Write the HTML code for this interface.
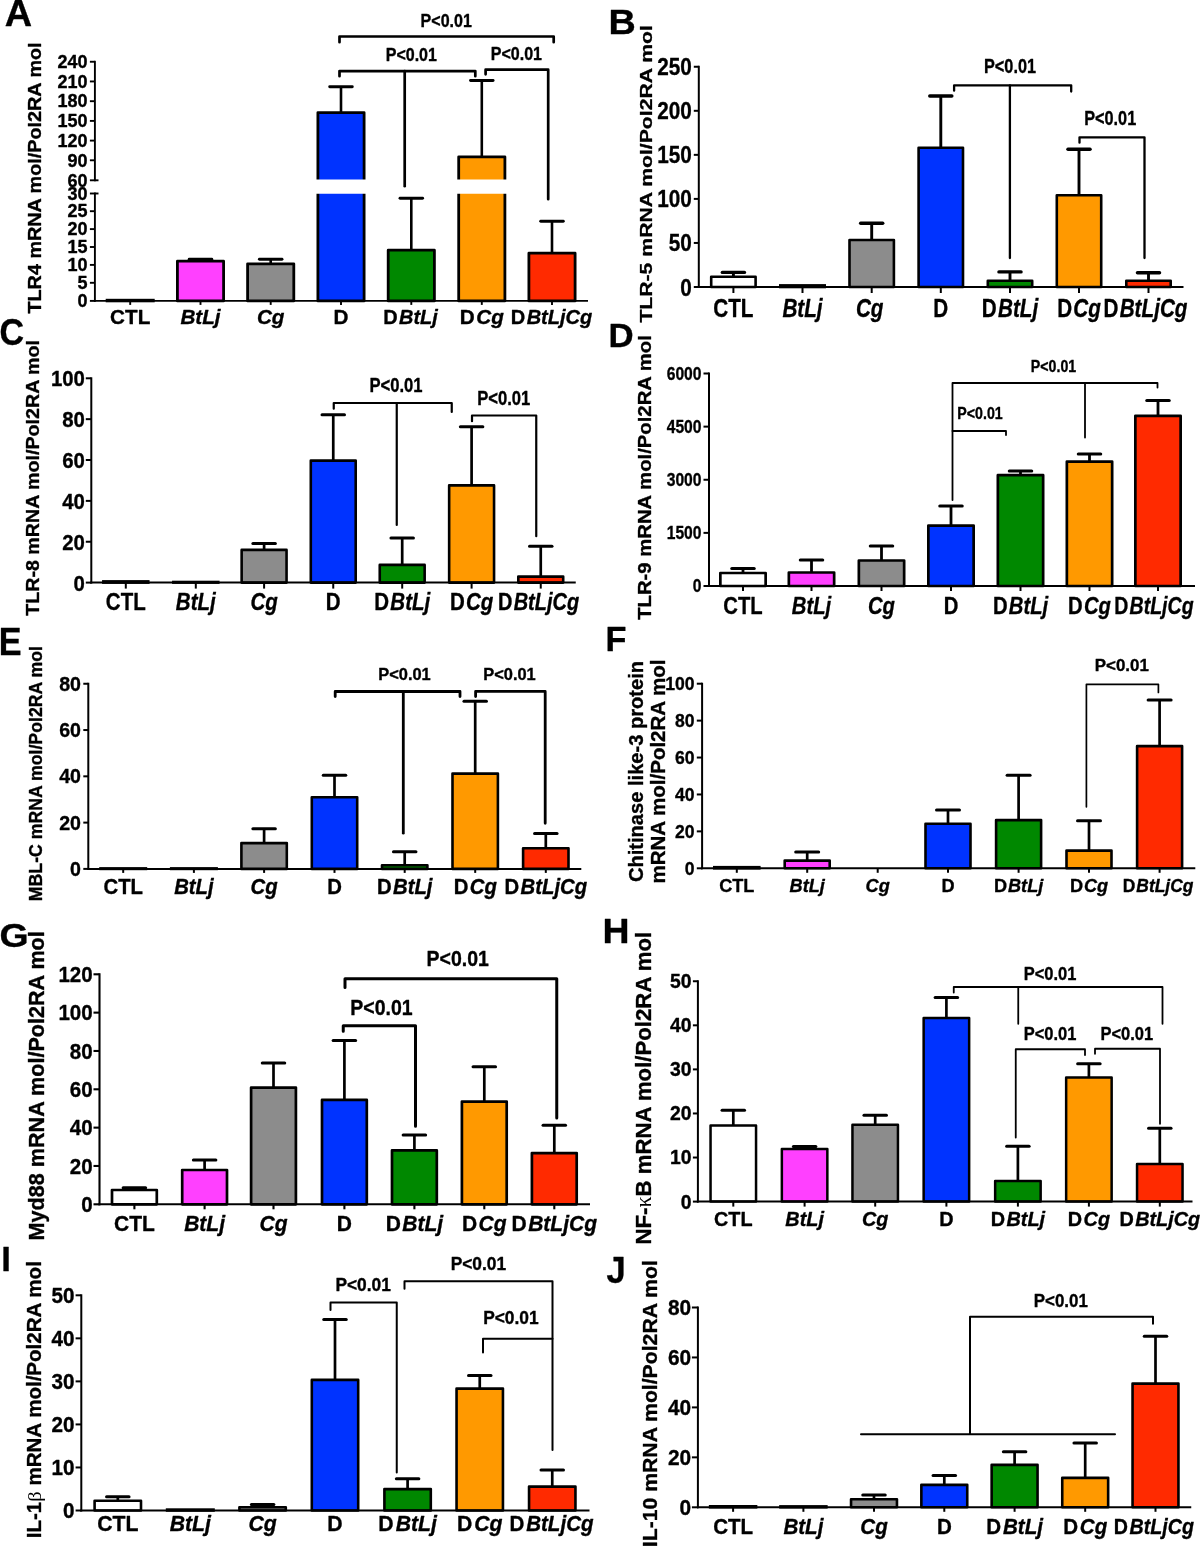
<!DOCTYPE html>
<html><head><meta charset="utf-8"><style>
html,body{margin:0;padding:0;background:#fff;width:1200px;height:1548px;overflow:hidden}
svg{display:block;will-change:transform}
text{font-family:"Liberation Sans", sans-serif;font-weight:bold;fill:#000;stroke:#000;stroke-width:0.35px;stroke-linejoin:round}
tspan.g{font-family:"Liberation Serif",serif;font-weight:normal;stroke-width:0}
</style></head><body>
<svg width="1200" height="1548" viewBox="0 0 1200 1548">
<rect width="1200" height="1548" fill="#fff"/>
<g>
<text transform="translate(4.80,25.90) scale(1.040,1)" font-size="36.40" text-anchor="start">A</text>
<text transform="translate(35.00,178.00) scale(0.950,1) rotate(-90)" font-size="19.80" text-anchor="middle" dominant-baseline="central">TLR4 mRNA mol/Pol2RA mol</text>
<rect x="105.70" y="298.80" width="49.00" height="3.50" fill="#000"/>
<line x1="200.50" y1="261.20" x2="200.50" y2="259.30" stroke="#000" stroke-width="2.6"/>
<line x1="189.20" y1="259.30" x2="211.80" y2="259.30" stroke="#000" stroke-width="2.9" stroke-linecap="round"/>
<rect x="177.40" y="261.20" width="46.20" height="39.70" fill="#ff40ff" stroke="#000" stroke-width="2.8" stroke-linejoin="round"/>
<line x1="270.70" y1="263.80" x2="270.70" y2="259.30" stroke="#000" stroke-width="2.6"/>
<line x1="259.40" y1="259.30" x2="282.00" y2="259.30" stroke="#000" stroke-width="2.9" stroke-linecap="round"/>
<rect x="247.60" y="263.80" width="46.20" height="37.10" fill="#8c8c8c" stroke="#000" stroke-width="2.8" stroke-linejoin="round"/>
<line x1="341.00" y1="112.60" x2="341.00" y2="86.75" stroke="#000" stroke-width="2.6"/>
<line x1="329.70" y1="86.75" x2="352.30" y2="86.75" stroke="#000" stroke-width="2.9" stroke-linecap="round"/>
<rect x="317.90" y="112.60" width="46.20" height="188.30" fill="#0033ff" stroke="#000" stroke-width="2.8" stroke-linejoin="round"/>
<line x1="411.30" y1="250.20" x2="411.30" y2="198.25" stroke="#000" stroke-width="2.6"/>
<line x1="400.00" y1="198.25" x2="422.60" y2="198.25" stroke="#000" stroke-width="2.9" stroke-linecap="round"/>
<rect x="388.20" y="250.20" width="46.20" height="50.70" fill="#008800" stroke="#000" stroke-width="2.8" stroke-linejoin="round"/>
<line x1="481.80" y1="156.80" x2="481.80" y2="80.50" stroke="#000" stroke-width="2.6"/>
<line x1="470.50" y1="80.50" x2="493.10" y2="80.50" stroke="#000" stroke-width="2.9" stroke-linecap="round"/>
<rect x="458.70" y="156.80" width="46.20" height="144.10" fill="#ff9900" stroke="#000" stroke-width="2.8" stroke-linejoin="round"/>
<line x1="552.00" y1="253.20" x2="552.00" y2="221.25" stroke="#000" stroke-width="2.6"/>
<line x1="540.70" y1="221.25" x2="563.30" y2="221.25" stroke="#000" stroke-width="2.9" stroke-linecap="round"/>
<rect x="528.90" y="253.20" width="46.20" height="47.70" fill="#ff2a00" stroke="#000" stroke-width="2.8" stroke-linejoin="round"/>
<rect x="97.90" y="179.50" width="493.10" height="14.25" fill="#fff"/>
<line x1="94.90" y1="60.80" x2="94.90" y2="181.25" stroke="#000" stroke-width="1.9"/>
<line x1="94.90" y1="192.55" x2="94.90" y2="301.85" stroke="#000" stroke-width="1.9"/>
<line x1="89.90" y1="61.75" x2="94.90" y2="61.75" stroke="#000" stroke-width="1.9"/>
<text transform="translate(87.60,67.96) scale(1.000,1)" font-size="18.00" text-anchor="end">240</text>
<line x1="89.90" y1="81.45" x2="94.90" y2="81.45" stroke="#000" stroke-width="1.9"/>
<text transform="translate(87.60,87.66) scale(1.000,1)" font-size="18.00" text-anchor="end">210</text>
<line x1="89.90" y1="101.20" x2="94.90" y2="101.20" stroke="#000" stroke-width="1.9"/>
<text transform="translate(87.60,107.41) scale(1.000,1)" font-size="18.00" text-anchor="end">180</text>
<line x1="89.90" y1="120.90" x2="94.90" y2="120.90" stroke="#000" stroke-width="1.9"/>
<text transform="translate(87.60,127.11) scale(1.000,1)" font-size="18.00" text-anchor="end">150</text>
<line x1="89.90" y1="140.60" x2="94.90" y2="140.60" stroke="#000" stroke-width="1.9"/>
<text transform="translate(87.60,146.81) scale(1.000,1)" font-size="18.00" text-anchor="end">120</text>
<line x1="89.90" y1="160.30" x2="94.90" y2="160.30" stroke="#000" stroke-width="1.9"/>
<text transform="translate(87.60,166.51) scale(1.000,1)" font-size="18.00" text-anchor="end">90</text>
<line x1="89.90" y1="180.30" x2="98.50" y2="180.30" stroke="#000" stroke-width="1.9"/>
<text transform="translate(87.60,186.51) scale(1.000,1)" font-size="18.00" text-anchor="end">60</text>
<line x1="89.90" y1="193.50" x2="98.50" y2="193.50" stroke="#000" stroke-width="1.9"/>
<text transform="translate(87.60,199.71) scale(1.000,1)" font-size="18.00" text-anchor="end">30</text>
<line x1="89.90" y1="211.20" x2="94.90" y2="211.20" stroke="#000" stroke-width="1.9"/>
<text transform="translate(87.60,217.41) scale(1.000,1)" font-size="18.00" text-anchor="end">25</text>
<line x1="89.90" y1="229.10" x2="94.90" y2="229.10" stroke="#000" stroke-width="1.9"/>
<text transform="translate(87.60,235.31) scale(1.000,1)" font-size="18.00" text-anchor="end">20</text>
<line x1="89.90" y1="247.00" x2="94.90" y2="247.00" stroke="#000" stroke-width="1.9"/>
<text transform="translate(87.60,253.21) scale(1.000,1)" font-size="18.00" text-anchor="end">15</text>
<line x1="89.90" y1="264.90" x2="94.90" y2="264.90" stroke="#000" stroke-width="1.9"/>
<text transform="translate(87.60,271.11) scale(1.000,1)" font-size="18.00" text-anchor="end">10</text>
<line x1="89.90" y1="282.80" x2="94.90" y2="282.80" stroke="#000" stroke-width="1.9"/>
<text transform="translate(87.60,289.01) scale(1.000,1)" font-size="18.00" text-anchor="end">5</text>
<line x1="89.90" y1="300.90" x2="94.90" y2="300.90" stroke="#000" stroke-width="1.9"/>
<text transform="translate(87.60,307.11) scale(1.000,1)" font-size="18.00" text-anchor="end">0</text>
<line x1="93.95" y1="300.90" x2="588.00" y2="300.90" stroke="#000" stroke-width="1.9"/>
<line x1="130.20" y1="300.90" x2="130.20" y2="304.90" stroke="#000" stroke-width="1.9"/>
<line x1="200.50" y1="300.90" x2="200.50" y2="304.90" stroke="#000" stroke-width="1.9"/>
<line x1="270.70" y1="300.90" x2="270.70" y2="304.90" stroke="#000" stroke-width="1.9"/>
<line x1="341.00" y1="300.90" x2="341.00" y2="304.90" stroke="#000" stroke-width="1.9"/>
<line x1="411.30" y1="300.90" x2="411.30" y2="304.90" stroke="#000" stroke-width="1.9"/>
<line x1="481.80" y1="300.90" x2="481.80" y2="304.90" stroke="#000" stroke-width="1.9"/>
<line x1="552.00" y1="300.90" x2="552.00" y2="304.90" stroke="#000" stroke-width="1.9"/>
<text transform="translate(130.20,324.30) scale(0.990,1)" font-size="20.90" text-anchor="middle">CTL</text>
<text transform="translate(200.50,324.30) scale(0.990,1)" font-size="20.90" text-anchor="middle" font-style="italic">BtLj</text>
<text transform="translate(270.70,324.30) scale(0.990,1)" font-size="20.90" text-anchor="middle" font-style="italic">Cg</text>
<text transform="translate(341.00,324.30) scale(0.990,1)" font-size="20.90" text-anchor="middle">D</text>
<text transform="translate(410.50,324.30) scale(0.955,1)" font-size="20.90" text-anchor="middle">D<tspan font-style="italic" dx="1.50">BtLj</tspan></text>
<text transform="translate(481.80,324.30) scale(0.990,1)" font-size="20.90" text-anchor="middle">D<tspan font-style="italic" dx="1.50">Cg</tspan></text>
<text transform="translate(551.50,324.30) scale(0.960,1)" font-size="20.90" text-anchor="middle">D<tspan font-style="italic" dx="1.50">BtLjCg</tspan></text>
<path d="M339.50,42.20 L339.50,36.50 L553.70,36.50 L553.70,42.20" fill="none" stroke="#000" stroke-width="2.7" stroke-linejoin="round" stroke-linecap="round"/>
<path d="M339.50,76.20 L339.50,71.10 L475.30,71.10 L475.30,76.20" fill="none" stroke="#000" stroke-width="2.7" stroke-linejoin="round" stroke-linecap="round"/>
<path d="M404.70,71.10 L404.70,186.25" fill="none" stroke="#000" stroke-width="2.7" stroke-linejoin="round" stroke-linecap="round"/>
<path d="M485.60,74.30 L485.60,69.70 L548.20,69.70 L548.20,199.25" fill="none" stroke="#000" stroke-width="2.7" stroke-linejoin="round" stroke-linecap="round"/>
<text transform="translate(446.20,26.60) scale(0.910,1)" font-size="17.60" text-anchor="middle">P&lt;0.01</text>
<text transform="translate(411.30,60.80) scale(0.910,1)" font-size="17.60" text-anchor="middle">P&lt;0.01</text>
<text transform="translate(516.40,59.80) scale(0.910,1)" font-size="17.60" text-anchor="middle">P&lt;0.01</text>
</g>
<g>
<text transform="translate(608.50,34.00) scale(1.080,1)" font-size="35.00" text-anchor="start">B</text>
<text transform="translate(646.20,173.90) scale(0.800,1) rotate(-90)" font-size="21.20" text-anchor="middle" dominant-baseline="central">TLR-5 mRNA mol/Pol2RA mol</text>
<line x1="733.40" y1="276.80" x2="733.40" y2="272.40" stroke="#000" stroke-width="2.9"/>
<line x1="722.35" y1="272.40" x2="744.45" y2="272.40" stroke="#000" stroke-width="3.4" stroke-linecap="round"/>
<rect x="711.20" y="276.80" width="44.40" height="10.20" fill="#ffffff" stroke="#000" stroke-width="2.6" stroke-linejoin="round"/>
<rect x="779.00" y="284.10" width="47.00" height="4.20" fill="#000"/>
<line x1="871.70" y1="240.00" x2="871.70" y2="223.20" stroke="#000" stroke-width="2.9"/>
<line x1="860.65" y1="223.20" x2="882.75" y2="223.20" stroke="#000" stroke-width="3.4" stroke-linecap="round"/>
<rect x="849.50" y="240.00" width="44.40" height="47.00" fill="#8c8c8c" stroke="#000" stroke-width="2.6" stroke-linejoin="round"/>
<line x1="940.80" y1="147.80" x2="940.80" y2="96.00" stroke="#000" stroke-width="2.9"/>
<line x1="929.75" y1="96.00" x2="951.85" y2="96.00" stroke="#000" stroke-width="3.4" stroke-linecap="round"/>
<rect x="918.60" y="147.80" width="44.40" height="139.20" fill="#0033ff" stroke="#000" stroke-width="2.6" stroke-linejoin="round"/>
<line x1="1010.00" y1="280.70" x2="1010.00" y2="271.90" stroke="#000" stroke-width="2.9"/>
<line x1="998.95" y1="271.90" x2="1021.05" y2="271.90" stroke="#000" stroke-width="3.4" stroke-linecap="round"/>
<rect x="987.80" y="280.70" width="44.40" height="6.30" fill="#008800" stroke="#000" stroke-width="2.6" stroke-linejoin="round"/>
<line x1="1079.00" y1="195.30" x2="1079.00" y2="149.30" stroke="#000" stroke-width="2.9"/>
<line x1="1067.95" y1="149.30" x2="1090.05" y2="149.30" stroke="#000" stroke-width="3.4" stroke-linecap="round"/>
<rect x="1056.80" y="195.30" width="44.40" height="91.70" fill="#ff9900" stroke="#000" stroke-width="2.6" stroke-linejoin="round"/>
<line x1="1148.50" y1="280.70" x2="1148.50" y2="272.70" stroke="#000" stroke-width="2.9"/>
<line x1="1137.45" y1="272.70" x2="1159.55" y2="272.70" stroke="#000" stroke-width="3.4" stroke-linecap="round"/>
<rect x="1126.30" y="280.70" width="44.40" height="6.30" fill="#ff2a00" stroke="#000" stroke-width="2.6" stroke-linejoin="round"/>
<line x1="698.80" y1="65.75" x2="698.80" y2="288.00" stroke="#000" stroke-width="2"/>
<line x1="693.80" y1="66.75" x2="698.80" y2="66.75" stroke="#000" stroke-width="2"/>
<text transform="translate(691.80,75.27) scale(0.840,1)" font-size="24.70" text-anchor="end">250</text>
<line x1="693.80" y1="110.80" x2="698.80" y2="110.80" stroke="#000" stroke-width="2"/>
<text transform="translate(691.80,119.32) scale(0.840,1)" font-size="24.70" text-anchor="end">200</text>
<line x1="693.80" y1="154.85" x2="698.80" y2="154.85" stroke="#000" stroke-width="2"/>
<text transform="translate(691.80,163.37) scale(0.840,1)" font-size="24.70" text-anchor="end">150</text>
<line x1="693.80" y1="198.90" x2="698.80" y2="198.90" stroke="#000" stroke-width="2"/>
<text transform="translate(691.80,207.42) scale(0.840,1)" font-size="24.70" text-anchor="end">100</text>
<line x1="693.80" y1="242.95" x2="698.80" y2="242.95" stroke="#000" stroke-width="2"/>
<text transform="translate(691.80,251.47) scale(0.840,1)" font-size="24.70" text-anchor="end">50</text>
<line x1="693.80" y1="287.00" x2="698.80" y2="287.00" stroke="#000" stroke-width="2"/>
<text transform="translate(691.80,295.52) scale(0.840,1)" font-size="24.70" text-anchor="end">0</text>
<line x1="697.80" y1="287.00" x2="1183.50" y2="287.00" stroke="#000" stroke-width="2"/>
<line x1="733.40" y1="287.00" x2="733.40" y2="293.00" stroke="#000" stroke-width="2"/>
<line x1="802.50" y1="287.00" x2="802.50" y2="293.00" stroke="#000" stroke-width="2"/>
<line x1="871.70" y1="287.00" x2="871.70" y2="293.00" stroke="#000" stroke-width="2"/>
<line x1="940.80" y1="287.00" x2="940.80" y2="293.00" stroke="#000" stroke-width="2"/>
<line x1="1010.00" y1="287.00" x2="1010.00" y2="293.00" stroke="#000" stroke-width="2"/>
<line x1="1079.00" y1="287.00" x2="1079.00" y2="293.00" stroke="#000" stroke-width="2"/>
<line x1="1148.50" y1="287.00" x2="1148.50" y2="293.00" stroke="#000" stroke-width="2"/>
<text transform="translate(733.40,316.50) scale(0.790,1)" font-size="26.20" text-anchor="middle">CTL</text>
<text transform="translate(802.50,316.50) scale(0.790,1)" font-size="26.20" text-anchor="middle" font-style="italic">BtLj</text>
<text transform="translate(869.70,316.50) scale(0.790,1)" font-size="26.20" text-anchor="middle" font-style="italic">Cg</text>
<text transform="translate(940.80,316.50) scale(0.790,1)" font-size="26.20" text-anchor="middle">D</text>
<text transform="translate(1010.00,316.50) scale(0.790,1)" font-size="26.20" text-anchor="middle">D<tspan font-style="italic" dx="1.50">BtLj</tspan></text>
<text transform="translate(1079.00,316.50) scale(0.790,1)" font-size="26.20" text-anchor="middle">D<tspan font-style="italic" dx="1.50">Cg</tspan></text>
<text transform="translate(1145.50,316.50) scale(0.790,1)" font-size="26.20" text-anchor="middle">D<tspan font-style="italic" dx="1.50">BtLjCg</tspan></text>
<path d="M954.10,90.70 L954.10,85.30 L1071.20,85.30 L1071.20,91.50" fill="none" stroke="#000" stroke-width="2.3" stroke-linejoin="round" stroke-linecap="round"/>
<path d="M1009.90,85.30 L1009.90,258.00" fill="none" stroke="#000" stroke-width="2.3" stroke-linejoin="round" stroke-linecap="round"/>
<path d="M1079.50,142.70 L1079.50,137.30 L1144.50,137.30 L1144.50,258.00" fill="none" stroke="#000" stroke-width="2.3" stroke-linejoin="round" stroke-linecap="round"/>
<text transform="translate(1010.00,73.30) scale(0.790,1)" font-size="20.60" text-anchor="middle">P&lt;0.01</text>
<text transform="translate(1110.20,124.50) scale(0.790,1)" font-size="20.60" text-anchor="middle">P&lt;0.01</text>
</g>
<g>
<text transform="translate(-0.40,345.10) scale(0.920,1)" font-size="37.00" text-anchor="start">C</text>
<text transform="translate(33.20,477.90) scale(0.930,1) rotate(-90)" font-size="19.65" text-anchor="middle" dominant-baseline="central">TLR-8 mRNA mol/Pol2RA mol</text>
<rect x="102.05" y="580.10" width="47.50" height="3.80" fill="#000"/>
<rect x="172.05" y="580.70" width="47.50" height="3.20" fill="#000"/>
<line x1="264.10" y1="549.90" x2="264.10" y2="543.50" stroke="#000" stroke-width="2.7"/>
<line x1="252.85" y1="543.50" x2="275.35" y2="543.50" stroke="#000" stroke-width="3.0" stroke-linecap="round"/>
<rect x="241.65" y="549.90" width="44.90" height="32.70" fill="#8c8c8c" stroke="#000" stroke-width="2.6" stroke-linejoin="round"/>
<line x1="333.25" y1="460.60" x2="333.25" y2="414.80" stroke="#000" stroke-width="2.7"/>
<line x1="322.00" y1="414.80" x2="344.50" y2="414.80" stroke="#000" stroke-width="3.0" stroke-linecap="round"/>
<rect x="310.80" y="460.60" width="44.90" height="122.00" fill="#0033ff" stroke="#000" stroke-width="2.6" stroke-linejoin="round"/>
<line x1="402.20" y1="564.90" x2="402.20" y2="538.00" stroke="#000" stroke-width="2.7"/>
<line x1="390.95" y1="538.00" x2="413.45" y2="538.00" stroke="#000" stroke-width="3.0" stroke-linecap="round"/>
<rect x="379.75" y="564.90" width="44.90" height="17.70" fill="#008800" stroke="#000" stroke-width="2.6" stroke-linejoin="round"/>
<line x1="471.60" y1="485.40" x2="471.60" y2="426.80" stroke="#000" stroke-width="2.7"/>
<line x1="460.35" y1="426.80" x2="482.85" y2="426.80" stroke="#000" stroke-width="3.0" stroke-linecap="round"/>
<rect x="449.15" y="485.40" width="44.90" height="97.20" fill="#ff9900" stroke="#000" stroke-width="2.6" stroke-linejoin="round"/>
<line x1="540.75" y1="576.60" x2="540.75" y2="546.30" stroke="#000" stroke-width="2.7"/>
<line x1="529.50" y1="546.30" x2="552.00" y2="546.30" stroke="#000" stroke-width="3.0" stroke-linecap="round"/>
<rect x="518.30" y="576.60" width="44.90" height="6.00" fill="#ff2a00" stroke="#000" stroke-width="2.6" stroke-linejoin="round"/>
<line x1="91.30" y1="377.30" x2="91.30" y2="583.60" stroke="#000" stroke-width="2"/>
<line x1="85.80" y1="378.30" x2="91.30" y2="378.30" stroke="#000" stroke-width="2"/>
<text transform="translate(84.90,386.20) scale(0.890,1)" font-size="22.90" text-anchor="end">100</text>
<line x1="85.80" y1="419.16" x2="91.30" y2="419.16" stroke="#000" stroke-width="2"/>
<text transform="translate(84.90,427.06) scale(0.890,1)" font-size="22.90" text-anchor="end">80</text>
<line x1="85.80" y1="460.02" x2="91.30" y2="460.02" stroke="#000" stroke-width="2"/>
<text transform="translate(84.90,467.92) scale(0.890,1)" font-size="22.90" text-anchor="end">60</text>
<line x1="85.80" y1="500.88" x2="91.30" y2="500.88" stroke="#000" stroke-width="2"/>
<text transform="translate(84.90,508.78) scale(0.890,1)" font-size="22.90" text-anchor="end">40</text>
<line x1="85.80" y1="541.74" x2="91.30" y2="541.74" stroke="#000" stroke-width="2"/>
<text transform="translate(84.90,549.64) scale(0.890,1)" font-size="22.90" text-anchor="end">20</text>
<line x1="85.80" y1="582.60" x2="91.30" y2="582.60" stroke="#000" stroke-width="2"/>
<text transform="translate(84.90,590.50) scale(0.890,1)" font-size="22.90" text-anchor="end">0</text>
<line x1="90.30" y1="582.60" x2="575.75" y2="582.60" stroke="#000" stroke-width="2"/>
<line x1="125.80" y1="582.60" x2="125.80" y2="588.60" stroke="#000" stroke-width="2"/>
<line x1="195.80" y1="582.60" x2="195.80" y2="588.60" stroke="#000" stroke-width="2"/>
<line x1="264.10" y1="582.60" x2="264.10" y2="588.60" stroke="#000" stroke-width="2"/>
<line x1="333.25" y1="582.60" x2="333.25" y2="588.60" stroke="#000" stroke-width="2"/>
<line x1="402.20" y1="582.60" x2="402.20" y2="588.60" stroke="#000" stroke-width="2"/>
<line x1="471.60" y1="582.60" x2="471.60" y2="588.60" stroke="#000" stroke-width="2"/>
<line x1="540.75" y1="582.60" x2="540.75" y2="588.60" stroke="#000" stroke-width="2"/>
<text transform="translate(125.80,609.80) scale(0.880,1)" font-size="23.30" text-anchor="middle">CTL</text>
<text transform="translate(195.80,609.80) scale(0.880,1)" font-size="23.30" text-anchor="middle" font-style="italic">BtLj</text>
<text transform="translate(264.10,609.80) scale(0.880,1)" font-size="23.30" text-anchor="middle" font-style="italic">Cg</text>
<text transform="translate(333.25,609.80) scale(0.880,1)" font-size="23.30" text-anchor="middle">D</text>
<text transform="translate(402.20,609.80) scale(0.880,1)" font-size="23.30" text-anchor="middle">D<tspan font-style="italic" dx="1.50">BtLj</tspan></text>
<text transform="translate(471.60,609.80) scale(0.880,1)" font-size="23.30" text-anchor="middle">D<tspan font-style="italic" dx="1.50">Cg</tspan></text>
<text transform="translate(538.55,609.80) scale(0.858,1)" font-size="23.30" text-anchor="middle">D<tspan font-style="italic" dx="1.50">BtLjCg</tspan></text>
<path d="M333.75,408.75 L333.75,403.00 L451.75,403.00 L451.75,412.00" fill="none" stroke="#000" stroke-width="2.2" stroke-linejoin="round" stroke-linecap="round"/>
<path d="M396.75,403.00 L396.75,525.00" fill="none" stroke="#000" stroke-width="2.2" stroke-linejoin="round" stroke-linecap="round"/>
<path d="M472.00,421.25 L472.00,415.50 L536.25,415.50 L536.25,536.25" fill="none" stroke="#000" stroke-width="2.2" stroke-linejoin="round" stroke-linecap="round"/>
<text transform="translate(396.00,392.00) scale(0.840,1)" font-size="19.80" text-anchor="middle">P&lt;0.01</text>
<text transform="translate(503.75,404.50) scale(0.840,1)" font-size="19.80" text-anchor="middle">P&lt;0.01</text>
</g>
<g>
<text transform="translate(608.40,347.10) scale(1.030,1)" font-size="33.80" text-anchor="start">D</text>
<text transform="translate(645.00,477.50) scale(0.900,1) rotate(-90)" font-size="20.30" text-anchor="middle" dominant-baseline="central">TLR-9 mRNA mol/Pol2RA mol</text>
<line x1="743.00" y1="573.00" x2="743.00" y2="568.50" stroke="#000" stroke-width="2.8"/>
<line x1="731.80" y1="568.50" x2="754.20" y2="568.50" stroke="#000" stroke-width="3.1" stroke-linecap="round"/>
<rect x="720.35" y="573.00" width="45.30" height="13.00" fill="#ffffff" stroke="#000" stroke-width="2.7" stroke-linejoin="round"/>
<line x1="811.50" y1="572.50" x2="811.50" y2="560.00" stroke="#000" stroke-width="2.8"/>
<line x1="800.30" y1="560.00" x2="822.70" y2="560.00" stroke="#000" stroke-width="3.1" stroke-linecap="round"/>
<rect x="788.85" y="572.50" width="45.30" height="13.50" fill="#ff40ff" stroke="#000" stroke-width="2.7" stroke-linejoin="round"/>
<line x1="881.50" y1="560.50" x2="881.50" y2="546.00" stroke="#000" stroke-width="2.8"/>
<line x1="870.30" y1="546.00" x2="892.70" y2="546.00" stroke="#000" stroke-width="3.1" stroke-linecap="round"/>
<rect x="858.85" y="560.50" width="45.30" height="25.50" fill="#8c8c8c" stroke="#000" stroke-width="2.7" stroke-linejoin="round"/>
<line x1="951.00" y1="525.60" x2="951.00" y2="506.00" stroke="#000" stroke-width="2.8"/>
<line x1="939.80" y1="506.00" x2="962.20" y2="506.00" stroke="#000" stroke-width="3.1" stroke-linecap="round"/>
<rect x="928.35" y="525.60" width="45.30" height="60.40" fill="#0033ff" stroke="#000" stroke-width="2.7" stroke-linejoin="round"/>
<line x1="1020.50" y1="475.20" x2="1020.50" y2="471.00" stroke="#000" stroke-width="2.8"/>
<line x1="1009.30" y1="471.00" x2="1031.70" y2="471.00" stroke="#000" stroke-width="3.1" stroke-linecap="round"/>
<rect x="997.85" y="475.20" width="45.30" height="110.80" fill="#008800" stroke="#000" stroke-width="2.7" stroke-linejoin="round"/>
<line x1="1089.50" y1="461.60" x2="1089.50" y2="454.00" stroke="#000" stroke-width="2.8"/>
<line x1="1078.30" y1="454.00" x2="1100.70" y2="454.00" stroke="#000" stroke-width="3.1" stroke-linecap="round"/>
<rect x="1066.85" y="461.60" width="45.30" height="124.40" fill="#ff9900" stroke="#000" stroke-width="2.7" stroke-linejoin="round"/>
<line x1="1158.00" y1="415.80" x2="1158.00" y2="400.50" stroke="#000" stroke-width="2.8"/>
<line x1="1146.80" y1="400.50" x2="1169.20" y2="400.50" stroke="#000" stroke-width="3.1" stroke-linecap="round"/>
<rect x="1135.35" y="415.80" width="45.30" height="170.20" fill="#ff2a00" stroke="#000" stroke-width="2.7" stroke-linejoin="round"/>
<line x1="709.00" y1="372.50" x2="709.00" y2="587.00" stroke="#000" stroke-width="2"/>
<line x1="703.50" y1="373.50" x2="709.00" y2="373.50" stroke="#000" stroke-width="2"/>
<text transform="translate(701.50,379.85) scale(0.850,1)" font-size="18.40" text-anchor="end">6000</text>
<line x1="703.50" y1="426.62" x2="709.00" y2="426.62" stroke="#000" stroke-width="2"/>
<text transform="translate(701.50,432.97) scale(0.850,1)" font-size="18.40" text-anchor="end">4500</text>
<line x1="703.50" y1="479.75" x2="709.00" y2="479.75" stroke="#000" stroke-width="2"/>
<text transform="translate(701.50,486.10) scale(0.850,1)" font-size="18.40" text-anchor="end">3000</text>
<line x1="703.50" y1="532.88" x2="709.00" y2="532.88" stroke="#000" stroke-width="2"/>
<text transform="translate(701.50,539.22) scale(0.850,1)" font-size="18.40" text-anchor="end">1500</text>
<line x1="703.50" y1="586.00" x2="709.00" y2="586.00" stroke="#000" stroke-width="2"/>
<text transform="translate(701.50,592.35) scale(0.850,1)" font-size="18.40" text-anchor="end">0</text>
<line x1="708.00" y1="586.00" x2="1195.00" y2="586.00" stroke="#000" stroke-width="2"/>
<line x1="743.00" y1="586.00" x2="743.00" y2="591.00" stroke="#000" stroke-width="2"/>
<line x1="811.50" y1="586.00" x2="811.50" y2="591.00" stroke="#000" stroke-width="2"/>
<line x1="881.50" y1="586.00" x2="881.50" y2="591.00" stroke="#000" stroke-width="2"/>
<line x1="951.00" y1="586.00" x2="951.00" y2="591.00" stroke="#000" stroke-width="2"/>
<line x1="1020.50" y1="586.00" x2="1020.50" y2="591.00" stroke="#000" stroke-width="2"/>
<line x1="1089.50" y1="586.00" x2="1089.50" y2="591.00" stroke="#000" stroke-width="2"/>
<line x1="1158.00" y1="586.00" x2="1158.00" y2="591.00" stroke="#000" stroke-width="2"/>
<text transform="translate(743.00,613.50) scale(0.830,1)" font-size="24.40" text-anchor="middle">CTL</text>
<text transform="translate(811.50,613.50) scale(0.830,1)" font-size="24.40" text-anchor="middle" font-style="italic">BtLj</text>
<text transform="translate(881.50,613.50) scale(0.830,1)" font-size="24.40" text-anchor="middle" font-style="italic">Cg</text>
<text transform="translate(951.00,613.50) scale(0.830,1)" font-size="24.40" text-anchor="middle">D</text>
<text transform="translate(1020.50,613.50) scale(0.830,1)" font-size="24.40" text-anchor="middle">D<tspan font-style="italic" dx="1.50">BtLj</tspan></text>
<text transform="translate(1089.50,613.50) scale(0.830,1)" font-size="24.40" text-anchor="middle">D<tspan font-style="italic" dx="1.50">Cg</tspan></text>
<text transform="translate(1153.90,613.50) scale(0.801,1)" font-size="24.40" text-anchor="middle">D<tspan font-style="italic" dx="1.50">BtLjCg</tspan></text>
<path d="M952.50,500.00 L952.50,383.00 L1157.50,383.00 L1157.50,387.50" fill="none" stroke="#000" stroke-width="1.8" stroke-linejoin="round" stroke-linecap="round"/>
<path d="M1085.00,383.00 L1085.00,437.50" fill="none" stroke="#000" stroke-width="1.8" stroke-linejoin="round" stroke-linecap="round"/>
<path d="M952.50,431.00 L1006.00,431.00 L1006.00,435.00" fill="none" stroke="#000" stroke-width="1.8" stroke-linejoin="round" stroke-linecap="round"/>
<text transform="translate(1053.50,371.50) scale(0.860,1)" font-size="16.50" text-anchor="middle">P&lt;0.01</text>
<text transform="translate(980.00,419.00) scale(0.860,1)" font-size="16.50" text-anchor="middle">P&lt;0.01</text>
</g>
<g>
<text transform="translate(-1.30,654.90) scale(0.900,1)" font-size="38.00" text-anchor="start">E</text>
<text transform="translate(36.00,773.60) scale(1.030,1) rotate(-90)" font-size="17.70" text-anchor="middle" dominant-baseline="central">MBL-C mRNA mol/Pol2RA mol</text>
<rect x="99.20" y="867.10" width="48.00" height="3.10" fill="#000"/>
<rect x="169.90" y="867.10" width="48.00" height="3.10" fill="#000"/>
<line x1="264.10" y1="843.10" x2="264.10" y2="828.75" stroke="#000" stroke-width="2.7"/>
<line x1="252.85" y1="828.75" x2="275.35" y2="828.75" stroke="#000" stroke-width="3.0" stroke-linecap="round"/>
<rect x="241.40" y="843.10" width="45.40" height="25.80" fill="#8c8c8c" stroke="#000" stroke-width="2.6" stroke-linejoin="round"/>
<line x1="334.50" y1="797.30" x2="334.50" y2="775.20" stroke="#000" stroke-width="2.7"/>
<line x1="323.25" y1="775.20" x2="345.75" y2="775.20" stroke="#000" stroke-width="3.0" stroke-linecap="round"/>
<rect x="311.80" y="797.30" width="45.40" height="71.60" fill="#0033ff" stroke="#000" stroke-width="2.6" stroke-linejoin="round"/>
<line x1="404.70" y1="865.30" x2="404.70" y2="851.80" stroke="#000" stroke-width="2.7"/>
<line x1="393.45" y1="851.80" x2="415.95" y2="851.80" stroke="#000" stroke-width="3.0" stroke-linecap="round"/>
<rect x="382.00" y="865.30" width="45.40" height="3.60" fill="#008800" stroke="#000" stroke-width="2.6" stroke-linejoin="round"/>
<line x1="475.20" y1="773.60" x2="475.20" y2="701.30" stroke="#000" stroke-width="2.7"/>
<line x1="463.95" y1="701.30" x2="486.45" y2="701.30" stroke="#000" stroke-width="3.0" stroke-linecap="round"/>
<rect x="452.50" y="773.60" width="45.40" height="95.30" fill="#ff9900" stroke="#000" stroke-width="2.6" stroke-linejoin="round"/>
<line x1="545.80" y1="848.30" x2="545.80" y2="833.60" stroke="#000" stroke-width="2.7"/>
<line x1="534.55" y1="833.60" x2="557.05" y2="833.60" stroke="#000" stroke-width="3.0" stroke-linecap="round"/>
<rect x="523.10" y="848.30" width="45.40" height="20.60" fill="#ff2a00" stroke="#000" stroke-width="2.6" stroke-linejoin="round"/>
<line x1="88.30" y1="682.75" x2="88.30" y2="869.90" stroke="#000" stroke-width="2"/>
<line x1="83.30" y1="683.75" x2="88.30" y2="683.75" stroke="#000" stroke-width="2"/>
<text transform="translate(81.00,690.65) scale(0.980,1)" font-size="20.00" text-anchor="end">80</text>
<line x1="83.30" y1="730.04" x2="88.30" y2="730.04" stroke="#000" stroke-width="2"/>
<text transform="translate(81.00,736.94) scale(0.980,1)" font-size="20.00" text-anchor="end">60</text>
<line x1="83.30" y1="776.33" x2="88.30" y2="776.33" stroke="#000" stroke-width="2"/>
<text transform="translate(81.00,783.23) scale(0.980,1)" font-size="20.00" text-anchor="end">40</text>
<line x1="83.30" y1="822.61" x2="88.30" y2="822.61" stroke="#000" stroke-width="2"/>
<text transform="translate(81.00,829.51) scale(0.980,1)" font-size="20.00" text-anchor="end">20</text>
<line x1="83.30" y1="868.90" x2="88.30" y2="868.90" stroke="#000" stroke-width="2"/>
<text transform="translate(81.00,875.80) scale(0.980,1)" font-size="20.00" text-anchor="end">0</text>
<line x1="87.30" y1="868.90" x2="581.30" y2="868.90" stroke="#000" stroke-width="2"/>
<line x1="123.20" y1="868.90" x2="123.20" y2="872.90" stroke="#000" stroke-width="2"/>
<line x1="193.90" y1="868.90" x2="193.90" y2="872.90" stroke="#000" stroke-width="2"/>
<line x1="264.10" y1="868.90" x2="264.10" y2="872.90" stroke="#000" stroke-width="2"/>
<line x1="334.50" y1="868.90" x2="334.50" y2="872.90" stroke="#000" stroke-width="2"/>
<line x1="404.70" y1="868.90" x2="404.70" y2="872.90" stroke="#000" stroke-width="2"/>
<line x1="475.20" y1="868.90" x2="475.20" y2="872.90" stroke="#000" stroke-width="2"/>
<line x1="545.80" y1="868.90" x2="545.80" y2="872.90" stroke="#000" stroke-width="2"/>
<text transform="translate(123.20,893.80) scale(0.940,1)" font-size="21.60" text-anchor="middle">CTL</text>
<text transform="translate(193.90,893.80) scale(0.940,1)" font-size="21.60" text-anchor="middle" font-style="italic">BtLj</text>
<text transform="translate(264.10,893.80) scale(0.940,1)" font-size="21.60" text-anchor="middle" font-style="italic">Cg</text>
<text transform="translate(334.50,893.80) scale(0.940,1)" font-size="21.60" text-anchor="middle">D</text>
<text transform="translate(404.70,893.80) scale(0.940,1)" font-size="21.60" text-anchor="middle">D<tspan font-style="italic" dx="1.50">BtLj</tspan></text>
<text transform="translate(475.20,893.80) scale(0.940,1)" font-size="21.60" text-anchor="middle">D<tspan font-style="italic" dx="1.50">Cg</tspan></text>
<text transform="translate(545.80,893.80) scale(0.940,1)" font-size="21.60" text-anchor="middle">D<tspan font-style="italic" dx="1.50">BtLjCg</tspan></text>
<path d="M335.20,696.50 L335.20,691.50 L460.00,691.50 L460.00,696.50" fill="none" stroke="#000" stroke-width="2.8" stroke-linejoin="round" stroke-linecap="round"/>
<path d="M403.30,691.50 L403.30,833.20" fill="none" stroke="#000" stroke-width="2.8" stroke-linejoin="round" stroke-linecap="round"/>
<path d="M475.60,696.50 L475.60,691.40 L545.20,691.40 L545.20,823.30" fill="none" stroke="#000" stroke-width="2.8" stroke-linejoin="round" stroke-linecap="round"/>
<text transform="translate(404.50,680.30) scale(0.960,1)" font-size="17.10" text-anchor="middle">P&lt;0.01</text>
<text transform="translate(509.50,680.30) scale(0.960,1)" font-size="17.10" text-anchor="middle">P&lt;0.01</text>
</g>
<g>
<text transform="translate(605.50,650.90) scale(0.970,1)" font-size="35.40" text-anchor="start">F</text>
<text transform="translate(635.65,771.50) scale(1.000,1) rotate(-90)" font-size="20.10" text-anchor="middle" dominant-baseline="central">Chitinase like-3 protein</text>
<text transform="translate(657.55,771.50) scale(1.000,1) rotate(-90)" font-size="20.50" text-anchor="middle" dominant-baseline="central">mRNA mol/Pol2RA mol</text>
<rect x="713.00" y="865.90" width="47.60" height="3.70" fill="#000"/>
<line x1="807.20" y1="860.60" x2="807.20" y2="851.90" stroke="#000" stroke-width="2.7"/>
<line x1="795.70" y1="851.90" x2="818.70" y2="851.90" stroke="#000" stroke-width="3.0" stroke-linecap="round"/>
<rect x="784.70" y="860.60" width="45.00" height="7.70" fill="#ff40ff" stroke="#000" stroke-width="2.6" stroke-linejoin="round"/>
<line x1="948.00" y1="823.80" x2="948.00" y2="809.90" stroke="#000" stroke-width="2.7"/>
<line x1="936.50" y1="809.90" x2="959.50" y2="809.90" stroke="#000" stroke-width="3.0" stroke-linecap="round"/>
<rect x="925.50" y="823.80" width="45.00" height="44.50" fill="#0033ff" stroke="#000" stroke-width="2.6" stroke-linejoin="round"/>
<line x1="1018.60" y1="820.10" x2="1018.60" y2="775.30" stroke="#000" stroke-width="2.7"/>
<line x1="1007.10" y1="775.30" x2="1030.10" y2="775.30" stroke="#000" stroke-width="3.0" stroke-linecap="round"/>
<rect x="996.10" y="820.10" width="45.00" height="48.20" fill="#008800" stroke="#000" stroke-width="2.6" stroke-linejoin="round"/>
<line x1="1089.00" y1="850.60" x2="1089.00" y2="820.80" stroke="#000" stroke-width="2.7"/>
<line x1="1077.50" y1="820.80" x2="1100.50" y2="820.80" stroke="#000" stroke-width="3.0" stroke-linecap="round"/>
<rect x="1066.50" y="850.60" width="45.00" height="17.70" fill="#ff9900" stroke="#000" stroke-width="2.6" stroke-linejoin="round"/>
<line x1="1159.60" y1="746.10" x2="1159.60" y2="700.00" stroke="#000" stroke-width="2.7"/>
<line x1="1148.10" y1="700.00" x2="1171.10" y2="700.00" stroke="#000" stroke-width="3.0" stroke-linecap="round"/>
<rect x="1137.10" y="746.10" width="45.00" height="122.20" fill="#ff2a00" stroke="#000" stroke-width="2.6" stroke-linejoin="round"/>
<line x1="702.10" y1="682.70" x2="702.10" y2="869.30" stroke="#000" stroke-width="2"/>
<line x1="696.80" y1="683.70" x2="702.10" y2="683.70" stroke="#000" stroke-width="2"/>
<text transform="translate(694.55,690.15) scale(0.940,1)" font-size="18.70" text-anchor="end">100</text>
<line x1="696.80" y1="720.62" x2="702.10" y2="720.62" stroke="#000" stroke-width="2"/>
<text transform="translate(694.55,727.07) scale(0.940,1)" font-size="18.70" text-anchor="end">80</text>
<line x1="696.80" y1="757.54" x2="702.10" y2="757.54" stroke="#000" stroke-width="2"/>
<text transform="translate(694.55,763.99) scale(0.940,1)" font-size="18.70" text-anchor="end">60</text>
<line x1="696.80" y1="794.46" x2="702.10" y2="794.46" stroke="#000" stroke-width="2"/>
<text transform="translate(694.55,800.91) scale(0.940,1)" font-size="18.70" text-anchor="end">40</text>
<line x1="696.80" y1="831.38" x2="702.10" y2="831.38" stroke="#000" stroke-width="2"/>
<text transform="translate(694.55,837.83) scale(0.940,1)" font-size="18.70" text-anchor="end">20</text>
<line x1="696.80" y1="868.30" x2="702.10" y2="868.30" stroke="#000" stroke-width="2"/>
<text transform="translate(694.55,874.75) scale(0.940,1)" font-size="18.70" text-anchor="end">0</text>
<line x1="701.10" y1="868.30" x2="1195.30" y2="868.30" stroke="#000" stroke-width="2"/>
<line x1="736.80" y1="868.30" x2="736.80" y2="872.80" stroke="#000" stroke-width="2"/>
<line x1="807.20" y1="868.30" x2="807.20" y2="872.80" stroke="#000" stroke-width="2"/>
<line x1="877.70" y1="868.30" x2="877.70" y2="872.80" stroke="#000" stroke-width="2"/>
<line x1="948.00" y1="868.30" x2="948.00" y2="872.80" stroke="#000" stroke-width="2"/>
<line x1="1018.60" y1="868.30" x2="1018.60" y2="872.80" stroke="#000" stroke-width="2"/>
<line x1="1089.00" y1="868.30" x2="1089.00" y2="872.80" stroke="#000" stroke-width="2"/>
<line x1="1159.60" y1="868.30" x2="1159.60" y2="872.80" stroke="#000" stroke-width="2"/>
<text transform="translate(736.80,892.00) scale(0.950,1)" font-size="19.10" text-anchor="middle">CTL</text>
<text transform="translate(807.20,892.00) scale(0.950,1)" font-size="19.10" text-anchor="middle" font-style="italic">BtLj</text>
<text transform="translate(877.70,892.00) scale(0.950,1)" font-size="19.10" text-anchor="middle" font-style="italic">Cg</text>
<text transform="translate(948.00,892.00) scale(0.950,1)" font-size="19.10" text-anchor="middle">D</text>
<text transform="translate(1018.60,892.00) scale(0.950,1)" font-size="19.10" text-anchor="middle">D<tspan font-style="italic" dx="1.00">BtLj</tspan></text>
<text transform="translate(1089.00,892.00) scale(0.950,1)" font-size="19.10" text-anchor="middle">D<tspan font-style="italic" dx="1.00">Cg</tspan></text>
<text transform="translate(1158.10,892.00) scale(0.912,1)" font-size="19.10" text-anchor="middle">D<tspan font-style="italic" dx="1.00">BtLjCg</tspan></text>
<path d="M1086.40,806.80 L1086.40,684.30 L1158.40,684.30 L1158.40,692.50" fill="none" stroke="#000" stroke-width="1.7" stroke-linejoin="round" stroke-linecap="round"/>
<text transform="translate(1121.80,670.80) scale(0.990,1)" font-size="17.10" text-anchor="middle">P&lt;0.01</text>
</g>
<g>
<text transform="translate(-0.50,946.50) scale(1.100,1)" font-size="34.00" text-anchor="start">G</text>
<text transform="translate(36.70,1085.80) scale(1.000,1) rotate(-90)" font-size="21.60" text-anchor="middle" dominant-baseline="central">Myd88 mRNA mol/Pol2RA mol</text>
<line x1="134.40" y1="1190.00" x2="134.40" y2="1187.80" stroke="#000" stroke-width="2.7"/>
<line x1="123.15" y1="1187.80" x2="145.65" y2="1187.80" stroke="#000" stroke-width="3.0" stroke-linecap="round"/>
<rect x="112.00" y="1190.00" width="44.80" height="14.30" fill="#ffffff" stroke="#000" stroke-width="2.7" stroke-linejoin="round"/>
<line x1="204.60" y1="1170.00" x2="204.60" y2="1160.00" stroke="#000" stroke-width="2.7"/>
<line x1="193.35" y1="1160.00" x2="215.85" y2="1160.00" stroke="#000" stroke-width="3.0" stroke-linecap="round"/>
<rect x="182.20" y="1170.00" width="44.80" height="34.30" fill="#ff40ff" stroke="#000" stroke-width="2.7" stroke-linejoin="round"/>
<line x1="273.50" y1="1087.60" x2="273.50" y2="1063.00" stroke="#000" stroke-width="2.7"/>
<line x1="262.25" y1="1063.00" x2="284.75" y2="1063.00" stroke="#000" stroke-width="3.0" stroke-linecap="round"/>
<rect x="251.10" y="1087.60" width="44.80" height="116.70" fill="#8c8c8c" stroke="#000" stroke-width="2.7" stroke-linejoin="round"/>
<line x1="344.40" y1="1099.90" x2="344.40" y2="1040.50" stroke="#000" stroke-width="2.7"/>
<line x1="333.15" y1="1040.50" x2="355.65" y2="1040.50" stroke="#000" stroke-width="3.0" stroke-linecap="round"/>
<rect x="322.00" y="1099.90" width="44.80" height="104.40" fill="#0033ff" stroke="#000" stroke-width="2.7" stroke-linejoin="round"/>
<line x1="414.40" y1="1150.40" x2="414.40" y2="1135.00" stroke="#000" stroke-width="2.7"/>
<line x1="403.15" y1="1135.00" x2="425.65" y2="1135.00" stroke="#000" stroke-width="3.0" stroke-linecap="round"/>
<rect x="392.00" y="1150.40" width="44.80" height="53.90" fill="#008800" stroke="#000" stroke-width="2.7" stroke-linejoin="round"/>
<line x1="484.30" y1="1101.60" x2="484.30" y2="1066.75" stroke="#000" stroke-width="2.7"/>
<line x1="473.05" y1="1066.75" x2="495.55" y2="1066.75" stroke="#000" stroke-width="3.0" stroke-linecap="round"/>
<rect x="461.90" y="1101.60" width="44.80" height="102.70" fill="#ff9900" stroke="#000" stroke-width="2.7" stroke-linejoin="round"/>
<line x1="554.30" y1="1153.10" x2="554.30" y2="1125.25" stroke="#000" stroke-width="2.7"/>
<line x1="543.05" y1="1125.25" x2="565.55" y2="1125.25" stroke="#000" stroke-width="3.0" stroke-linecap="round"/>
<rect x="531.90" y="1153.10" width="44.80" height="51.20" fill="#ff2a00" stroke="#000" stroke-width="2.7" stroke-linejoin="round"/>
<line x1="99.50" y1="973.25" x2="99.50" y2="1205.35" stroke="#000" stroke-width="2.1"/>
<line x1="93.50" y1="974.30" x2="99.50" y2="974.30" stroke="#000" stroke-width="2.1"/>
<text transform="translate(92.70,982.10) scale(0.910,1)" font-size="22.60" text-anchor="end">120</text>
<line x1="93.50" y1="1012.63" x2="99.50" y2="1012.63" stroke="#000" stroke-width="2.1"/>
<text transform="translate(92.70,1020.43) scale(0.910,1)" font-size="22.60" text-anchor="end">100</text>
<line x1="93.50" y1="1050.97" x2="99.50" y2="1050.97" stroke="#000" stroke-width="2.1"/>
<text transform="translate(92.70,1058.76) scale(0.910,1)" font-size="22.60" text-anchor="end">80</text>
<line x1="93.50" y1="1089.30" x2="99.50" y2="1089.30" stroke="#000" stroke-width="2.1"/>
<text transform="translate(92.70,1097.10) scale(0.910,1)" font-size="22.60" text-anchor="end">60</text>
<line x1="93.50" y1="1127.63" x2="99.50" y2="1127.63" stroke="#000" stroke-width="2.1"/>
<text transform="translate(92.70,1135.43) scale(0.910,1)" font-size="22.60" text-anchor="end">40</text>
<line x1="93.50" y1="1165.97" x2="99.50" y2="1165.97" stroke="#000" stroke-width="2.1"/>
<text transform="translate(92.70,1173.76) scale(0.910,1)" font-size="22.60" text-anchor="end">20</text>
<line x1="93.50" y1="1204.30" x2="99.50" y2="1204.30" stroke="#000" stroke-width="2.1"/>
<text transform="translate(92.70,1212.10) scale(0.910,1)" font-size="22.60" text-anchor="end">0</text>
<line x1="98.45" y1="1204.30" x2="590.00" y2="1204.30" stroke="#000" stroke-width="2.1"/>
<line x1="134.40" y1="1204.30" x2="134.40" y2="1209.30" stroke="#000" stroke-width="2.1"/>
<line x1="204.60" y1="1204.30" x2="204.60" y2="1209.30" stroke="#000" stroke-width="2.1"/>
<line x1="273.50" y1="1204.30" x2="273.50" y2="1209.30" stroke="#000" stroke-width="2.1"/>
<line x1="344.40" y1="1204.30" x2="344.40" y2="1209.30" stroke="#000" stroke-width="2.1"/>
<line x1="414.40" y1="1204.30" x2="414.40" y2="1209.30" stroke="#000" stroke-width="2.1"/>
<line x1="484.30" y1="1204.30" x2="484.30" y2="1209.30" stroke="#000" stroke-width="2.1"/>
<line x1="554.30" y1="1204.30" x2="554.30" y2="1209.30" stroke="#000" stroke-width="2.1"/>
<text transform="translate(134.40,1230.70) scale(0.930,1)" font-size="22.60" text-anchor="middle">CTL</text>
<text transform="translate(204.60,1230.70) scale(0.930,1)" font-size="22.60" text-anchor="middle" font-style="italic">BtLj</text>
<text transform="translate(273.50,1230.70) scale(0.930,1)" font-size="22.60" text-anchor="middle" font-style="italic">Cg</text>
<text transform="translate(344.40,1230.70) scale(0.930,1)" font-size="22.60" text-anchor="middle">D</text>
<text transform="translate(414.40,1230.70) scale(0.930,1)" font-size="22.60" text-anchor="middle">D<tspan font-style="italic" dx="1.50">BtLj</tspan></text>
<text transform="translate(484.30,1230.70) scale(0.930,1)" font-size="22.60" text-anchor="middle">D<tspan font-style="italic" dx="1.50">Cg</tspan></text>
<text transform="translate(554.30,1230.70) scale(0.930,1)" font-size="22.60" text-anchor="middle">D<tspan font-style="italic" dx="1.50">BtLjCg</tspan></text>
<path d="M345.00,987.50 L345.00,978.75 L556.75,978.75 L556.75,1118.00" fill="none" stroke="#000" stroke-width="3" stroke-linejoin="round" stroke-linecap="round"/>
<path d="M343.25,1031.25 L343.25,1025.75 L415.50,1025.75 L415.50,1126.25" fill="none" stroke="#000" stroke-width="3" stroke-linejoin="round" stroke-linecap="round"/>
<text transform="translate(457.75,966.25) scale(0.920,1)" font-size="21.20" text-anchor="middle">P&lt;0.01</text>
<text transform="translate(381.50,1014.50) scale(0.920,1)" font-size="21.20" text-anchor="middle">P&lt;0.01</text>
</g>
<g>
<text transform="translate(602.50,943.30) scale(1.070,1)" font-size="35.00" text-anchor="start">H</text>
<text transform="translate(643.40,1088.20) scale(1.000,1) rotate(-90)" font-size="22.20" text-anchor="middle" dominant-baseline="central">NF-<tspan class="g">κ</tspan>B mRNA mol/Pol2RA mol</text>
<line x1="733.30" y1="1125.60" x2="733.30" y2="1110.20" stroke="#000" stroke-width="2.7"/>
<line x1="722.05" y1="1110.20" x2="744.55" y2="1110.20" stroke="#000" stroke-width="3.0" stroke-linecap="round"/>
<rect x="710.55" y="1125.60" width="45.50" height="76.00" fill="#ffffff" stroke="#000" stroke-width="2.5" stroke-linejoin="round"/>
<line x1="804.60" y1="1148.90" x2="804.60" y2="1146.60" stroke="#000" stroke-width="2.7"/>
<line x1="793.35" y1="1146.60" x2="815.85" y2="1146.60" stroke="#000" stroke-width="3.0" stroke-linecap="round"/>
<rect x="781.85" y="1148.90" width="45.50" height="52.70" fill="#ff40ff" stroke="#000" stroke-width="2.5" stroke-linejoin="round"/>
<line x1="875.20" y1="1124.70" x2="875.20" y2="1115.20" stroke="#000" stroke-width="2.7"/>
<line x1="863.95" y1="1115.20" x2="886.45" y2="1115.20" stroke="#000" stroke-width="3.0" stroke-linecap="round"/>
<rect x="852.45" y="1124.70" width="45.50" height="76.90" fill="#8c8c8c" stroke="#000" stroke-width="2.5" stroke-linejoin="round"/>
<line x1="946.40" y1="1018.10" x2="946.40" y2="997.50" stroke="#000" stroke-width="2.7"/>
<line x1="935.15" y1="997.50" x2="957.65" y2="997.50" stroke="#000" stroke-width="3.0" stroke-linecap="round"/>
<rect x="923.65" y="1018.10" width="45.50" height="183.50" fill="#0033ff" stroke="#000" stroke-width="2.5" stroke-linejoin="round"/>
<line x1="1017.90" y1="1181.10" x2="1017.90" y2="1146.25" stroke="#000" stroke-width="2.7"/>
<line x1="1006.65" y1="1146.25" x2="1029.15" y2="1146.25" stroke="#000" stroke-width="3.0" stroke-linecap="round"/>
<rect x="995.15" y="1181.10" width="45.50" height="20.50" fill="#008800" stroke="#000" stroke-width="2.5" stroke-linejoin="round"/>
<line x1="1088.90" y1="1077.60" x2="1088.90" y2="1063.75" stroke="#000" stroke-width="2.7"/>
<line x1="1077.65" y1="1063.75" x2="1100.15" y2="1063.75" stroke="#000" stroke-width="3.0" stroke-linecap="round"/>
<rect x="1066.15" y="1077.60" width="45.50" height="124.00" fill="#ff9900" stroke="#000" stroke-width="2.5" stroke-linejoin="round"/>
<line x1="1159.80" y1="1164.10" x2="1159.80" y2="1128.25" stroke="#000" stroke-width="2.7"/>
<line x1="1148.55" y1="1128.25" x2="1171.05" y2="1128.25" stroke="#000" stroke-width="3.0" stroke-linecap="round"/>
<rect x="1137.05" y="1164.10" width="45.50" height="37.50" fill="#ff2a00" stroke="#000" stroke-width="2.5" stroke-linejoin="round"/>
<line x1="697.90" y1="980.25" x2="697.90" y2="1202.60" stroke="#000" stroke-width="2"/>
<line x1="692.90" y1="981.25" x2="697.90" y2="981.25" stroke="#000" stroke-width="2"/>
<text transform="translate(691.60,988.15) scale(0.970,1)" font-size="20.00" text-anchor="end">50</text>
<line x1="692.90" y1="1025.32" x2="697.90" y2="1025.32" stroke="#000" stroke-width="2"/>
<text transform="translate(691.60,1032.22) scale(0.970,1)" font-size="20.00" text-anchor="end">40</text>
<line x1="692.90" y1="1069.39" x2="697.90" y2="1069.39" stroke="#000" stroke-width="2"/>
<text transform="translate(691.60,1076.29) scale(0.970,1)" font-size="20.00" text-anchor="end">30</text>
<line x1="692.90" y1="1113.46" x2="697.90" y2="1113.46" stroke="#000" stroke-width="2"/>
<text transform="translate(691.60,1120.36) scale(0.970,1)" font-size="20.00" text-anchor="end">20</text>
<line x1="692.90" y1="1157.53" x2="697.90" y2="1157.53" stroke="#000" stroke-width="2"/>
<text transform="translate(691.60,1164.43) scale(0.970,1)" font-size="20.00" text-anchor="end">10</text>
<line x1="692.90" y1="1201.60" x2="697.90" y2="1201.60" stroke="#000" stroke-width="2"/>
<text transform="translate(691.60,1208.50) scale(0.970,1)" font-size="20.00" text-anchor="end">0</text>
<line x1="696.90" y1="1201.60" x2="1192.50" y2="1201.60" stroke="#000" stroke-width="2"/>
<line x1="733.30" y1="1201.60" x2="733.30" y2="1206.60" stroke="#000" stroke-width="2"/>
<line x1="804.60" y1="1201.60" x2="804.60" y2="1206.60" stroke="#000" stroke-width="2"/>
<line x1="875.20" y1="1201.60" x2="875.20" y2="1206.60" stroke="#000" stroke-width="2"/>
<line x1="946.40" y1="1201.60" x2="946.40" y2="1206.60" stroke="#000" stroke-width="2"/>
<line x1="1017.90" y1="1201.60" x2="1017.90" y2="1206.60" stroke="#000" stroke-width="2"/>
<line x1="1088.90" y1="1201.60" x2="1088.90" y2="1206.60" stroke="#000" stroke-width="2"/>
<line x1="1159.80" y1="1201.60" x2="1159.80" y2="1206.60" stroke="#000" stroke-width="2"/>
<text transform="translate(733.30,1225.50) scale(0.950,1)" font-size="20.90" text-anchor="middle">CTL</text>
<text transform="translate(804.60,1225.50) scale(0.950,1)" font-size="20.90" text-anchor="middle" font-style="italic">BtLj</text>
<text transform="translate(875.20,1225.50) scale(0.950,1)" font-size="20.90" text-anchor="middle" font-style="italic">Cg</text>
<text transform="translate(946.40,1225.50) scale(0.950,1)" font-size="20.90" text-anchor="middle">D</text>
<text transform="translate(1017.90,1225.50) scale(0.950,1)" font-size="20.90" text-anchor="middle">D<tspan font-style="italic" dx="1.50">BtLj</tspan></text>
<text transform="translate(1088.90,1225.50) scale(0.950,1)" font-size="20.90" text-anchor="middle">D<tspan font-style="italic" dx="1.50">Cg</tspan></text>
<text transform="translate(1159.80,1225.50) scale(0.950,1)" font-size="20.90" text-anchor="middle">D<tspan font-style="italic" dx="1.50">BtLjCg</tspan></text>
<path d="M953.75,992.50 L953.75,987.00 L1162.50,987.00 L1162.50,1023.75" fill="none" stroke="#000" stroke-width="1.8" stroke-linejoin="round" stroke-linecap="round"/>
<path d="M1018.25,987.00 L1018.25,1023.75" fill="none" stroke="#000" stroke-width="1.8" stroke-linejoin="round" stroke-linecap="round"/>
<path d="M1015.75,1137.50 L1015.75,1049.25 L1085.00,1049.25 L1085.00,1055.00" fill="none" stroke="#000" stroke-width="1.8" stroke-linejoin="round" stroke-linecap="round"/>
<path d="M1095.00,1053.75 L1095.00,1048.75 L1160.00,1048.75 L1160.00,1123.75" fill="none" stroke="#000" stroke-width="1.8" stroke-linejoin="round" stroke-linecap="round"/>
<text transform="translate(1050.00,979.50) scale(0.930,1)" font-size="17.70" text-anchor="middle">P&lt;0.01</text>
<text transform="translate(1050.00,1039.50) scale(0.930,1)" font-size="17.70" text-anchor="middle">P&lt;0.01</text>
<text transform="translate(1126.75,1039.50) scale(0.930,1)" font-size="17.70" text-anchor="middle">P&lt;0.01</text>
</g>
<g>
<text transform="translate(1.30,1270.60) scale(1.000,1)" font-size="34.70" text-anchor="start">I</text>
<text transform="translate(34.40,1399.70) scale(0.950,1) rotate(-90)" font-size="20.55" text-anchor="middle" dominant-baseline="central">IL-1<tspan class="g">β</tspan> mRNA mol/Pol2RA mol</text>
<line x1="117.80" y1="1500.70" x2="117.80" y2="1496.80" stroke="#000" stroke-width="2.7"/>
<line x1="106.55" y1="1496.80" x2="129.05" y2="1496.80" stroke="#000" stroke-width="3.0" stroke-linecap="round"/>
<rect x="94.60" y="1500.70" width="46.40" height="9.80" fill="#ffffff" stroke="#000" stroke-width="2.6" stroke-linejoin="round"/>
<rect x="165.80" y="1508.30" width="49.00" height="3.50" fill="#000"/>
<line x1="262.60" y1="1507.20" x2="262.60" y2="1504.60" stroke="#000" stroke-width="2.7"/>
<line x1="251.35" y1="1504.60" x2="273.85" y2="1504.60" stroke="#000" stroke-width="3.0" stroke-linecap="round"/>
<rect x="239.40" y="1507.20" width="46.40" height="3.30" fill="#8c8c8c" stroke="#000" stroke-width="2.6" stroke-linejoin="round"/>
<line x1="335.00" y1="1379.90" x2="335.00" y2="1319.50" stroke="#000" stroke-width="2.7"/>
<line x1="323.75" y1="1319.50" x2="346.25" y2="1319.50" stroke="#000" stroke-width="3.0" stroke-linecap="round"/>
<rect x="311.80" y="1379.90" width="46.40" height="130.60" fill="#0033ff" stroke="#000" stroke-width="2.6" stroke-linejoin="round"/>
<line x1="407.60" y1="1489.10" x2="407.60" y2="1478.75" stroke="#000" stroke-width="2.7"/>
<line x1="396.35" y1="1478.75" x2="418.85" y2="1478.75" stroke="#000" stroke-width="3.0" stroke-linecap="round"/>
<rect x="384.40" y="1489.10" width="46.40" height="21.40" fill="#008800" stroke="#000" stroke-width="2.6" stroke-linejoin="round"/>
<line x1="479.75" y1="1388.60" x2="479.75" y2="1375.50" stroke="#000" stroke-width="2.7"/>
<line x1="468.50" y1="1375.50" x2="491.00" y2="1375.50" stroke="#000" stroke-width="3.0" stroke-linecap="round"/>
<rect x="456.55" y="1388.60" width="46.40" height="121.90" fill="#ff9900" stroke="#000" stroke-width="2.6" stroke-linejoin="round"/>
<line x1="552.25" y1="1486.60" x2="552.25" y2="1470.00" stroke="#000" stroke-width="2.7"/>
<line x1="541.00" y1="1470.00" x2="563.50" y2="1470.00" stroke="#000" stroke-width="3.0" stroke-linecap="round"/>
<rect x="529.05" y="1486.60" width="46.40" height="23.90" fill="#ff2a00" stroke="#000" stroke-width="2.6" stroke-linejoin="round"/>
<line x1="81.30" y1="1294.30" x2="81.30" y2="1511.50" stroke="#000" stroke-width="2"/>
<line x1="75.60" y1="1295.30" x2="81.30" y2="1295.30" stroke="#000" stroke-width="2"/>
<text transform="translate(74.50,1302.61) scale(0.975,1)" font-size="21.20" text-anchor="end">50</text>
<line x1="75.60" y1="1338.34" x2="81.30" y2="1338.34" stroke="#000" stroke-width="2"/>
<text transform="translate(74.50,1345.65) scale(0.975,1)" font-size="21.20" text-anchor="end">40</text>
<line x1="75.60" y1="1381.38" x2="81.30" y2="1381.38" stroke="#000" stroke-width="2"/>
<text transform="translate(74.50,1388.69) scale(0.975,1)" font-size="21.20" text-anchor="end">30</text>
<line x1="75.60" y1="1424.42" x2="81.30" y2="1424.42" stroke="#000" stroke-width="2"/>
<text transform="translate(74.50,1431.73) scale(0.975,1)" font-size="21.20" text-anchor="end">20</text>
<line x1="75.60" y1="1467.46" x2="81.30" y2="1467.46" stroke="#000" stroke-width="2"/>
<text transform="translate(74.50,1474.77) scale(0.975,1)" font-size="21.20" text-anchor="end">10</text>
<line x1="75.60" y1="1510.50" x2="81.30" y2="1510.50" stroke="#000" stroke-width="2"/>
<text transform="translate(74.50,1517.81) scale(0.975,1)" font-size="21.20" text-anchor="end">0</text>
<line x1="80.30" y1="1510.50" x2="589.50" y2="1510.50" stroke="#000" stroke-width="2"/>
<line x1="117.80" y1="1510.50" x2="117.80" y2="1510.50" stroke="#000" stroke-width="2"/>
<line x1="190.30" y1="1510.50" x2="190.30" y2="1510.50" stroke="#000" stroke-width="2"/>
<line x1="262.60" y1="1510.50" x2="262.60" y2="1510.50" stroke="#000" stroke-width="2"/>
<line x1="335.00" y1="1510.50" x2="335.00" y2="1510.50" stroke="#000" stroke-width="2"/>
<line x1="407.60" y1="1510.50" x2="407.60" y2="1510.50" stroke="#000" stroke-width="2"/>
<line x1="479.75" y1="1510.50" x2="479.75" y2="1510.50" stroke="#000" stroke-width="2"/>
<line x1="552.25" y1="1510.50" x2="552.25" y2="1510.50" stroke="#000" stroke-width="2"/>
<text transform="translate(117.80,1530.80) scale(1.000,1)" font-size="21.20" text-anchor="middle">CTL</text>
<text transform="translate(190.30,1530.80) scale(1.000,1)" font-size="21.20" text-anchor="middle" font-style="italic">BtLj</text>
<text transform="translate(262.60,1530.80) scale(1.000,1)" font-size="21.20" text-anchor="middle" font-style="italic">Cg</text>
<text transform="translate(335.00,1530.80) scale(1.000,1)" font-size="21.20" text-anchor="middle">D</text>
<text transform="translate(407.60,1530.80) scale(1.000,1)" font-size="21.20" text-anchor="middle">D<tspan font-style="italic" dx="2.00">BtLj</tspan></text>
<text transform="translate(479.75,1530.80) scale(1.000,1)" font-size="21.20" text-anchor="middle">D<tspan font-style="italic" dx="2.00">Cg</tspan></text>
<text transform="translate(551.45,1530.80) scale(0.970,1)" font-size="21.20" text-anchor="middle">D<tspan font-style="italic" dx="2.00">BtLjCg</tspan></text>
<path d="M330.50,1310.00 L330.50,1302.50 L396.75,1302.50 L396.75,1472.50" fill="none" stroke="#000" stroke-width="2" stroke-linejoin="round" stroke-linecap="round"/>
<path d="M404.50,1288.75 L404.50,1281.25 L552.50,1281.25 L552.50,1450.00" fill="none" stroke="#000" stroke-width="2" stroke-linejoin="round" stroke-linecap="round"/>
<path d="M483.00,1352.50 L483.00,1338.75 L552.50,1338.75" fill="none" stroke="#000" stroke-width="2" stroke-linejoin="round" stroke-linecap="round"/>
<text transform="translate(363.10,1291.25) scale(0.980,1)" font-size="17.70" text-anchor="middle">P&lt;0.01</text>
<text transform="translate(478.40,1269.50) scale(0.980,1)" font-size="17.70" text-anchor="middle">P&lt;0.01</text>
<text transform="translate(510.90,1323.75) scale(0.980,1)" font-size="17.70" text-anchor="middle">P&lt;0.01</text>
</g>
<g>
<text transform="translate(606.50,1282.80) scale(0.960,1)" font-size="36.00" text-anchor="start">J</text>
<text transform="translate(649.50,1403.70) scale(0.930,1) rotate(-90)" font-size="21.20" text-anchor="middle" dominant-baseline="central">IL-10 mRNA mol/Pol2RA mol</text>
<rect x="708.85" y="1505.00" width="48.50" height="3.60" fill="#000"/>
<rect x="779.15" y="1505.10" width="48.50" height="3.50" fill="#000"/>
<line x1="874.00" y1="1499.20" x2="874.00" y2="1495.00" stroke="#000" stroke-width="2.7"/>
<line x1="862.75" y1="1495.00" x2="885.25" y2="1495.00" stroke="#000" stroke-width="3.0" stroke-linecap="round"/>
<rect x="851.05" y="1499.20" width="45.90" height="8.10" fill="#8c8c8c" stroke="#000" stroke-width="2.6" stroke-linejoin="round"/>
<line x1="944.30" y1="1484.85" x2="944.30" y2="1475.50" stroke="#000" stroke-width="2.7"/>
<line x1="933.05" y1="1475.50" x2="955.55" y2="1475.50" stroke="#000" stroke-width="3.0" stroke-linecap="round"/>
<rect x="921.35" y="1484.85" width="45.90" height="22.45" fill="#0033ff" stroke="#000" stroke-width="2.6" stroke-linejoin="round"/>
<line x1="1014.60" y1="1464.85" x2="1014.60" y2="1451.75" stroke="#000" stroke-width="2.7"/>
<line x1="1003.35" y1="1451.75" x2="1025.85" y2="1451.75" stroke="#000" stroke-width="3.0" stroke-linecap="round"/>
<rect x="991.65" y="1464.85" width="45.90" height="42.45" fill="#008800" stroke="#000" stroke-width="2.6" stroke-linejoin="round"/>
<line x1="1085.20" y1="1477.85" x2="1085.20" y2="1443.00" stroke="#000" stroke-width="2.7"/>
<line x1="1073.95" y1="1443.00" x2="1096.45" y2="1443.00" stroke="#000" stroke-width="3.0" stroke-linecap="round"/>
<rect x="1062.25" y="1477.85" width="45.90" height="29.45" fill="#ff9900" stroke="#000" stroke-width="2.6" stroke-linejoin="round"/>
<line x1="1155.50" y1="1383.60" x2="1155.50" y2="1336.25" stroke="#000" stroke-width="2.7"/>
<line x1="1144.25" y1="1336.25" x2="1166.75" y2="1336.25" stroke="#000" stroke-width="3.0" stroke-linecap="round"/>
<rect x="1132.55" y="1383.60" width="45.90" height="123.70" fill="#ff2a00" stroke="#000" stroke-width="2.6" stroke-linejoin="round"/>
<line x1="697.90" y1="1306.50" x2="697.90" y2="1508.30" stroke="#000" stroke-width="2"/>
<line x1="691.90" y1="1307.50" x2="697.90" y2="1307.50" stroke="#000" stroke-width="2"/>
<text transform="translate(691.10,1315.16) scale(0.940,1)" font-size="22.20" text-anchor="end">80</text>
<line x1="691.90" y1="1357.45" x2="697.90" y2="1357.45" stroke="#000" stroke-width="2"/>
<text transform="translate(691.10,1365.11) scale(0.940,1)" font-size="22.20" text-anchor="end">60</text>
<line x1="691.90" y1="1407.40" x2="697.90" y2="1407.40" stroke="#000" stroke-width="2"/>
<text transform="translate(691.10,1415.06) scale(0.940,1)" font-size="22.20" text-anchor="end">40</text>
<line x1="691.90" y1="1457.35" x2="697.90" y2="1457.35" stroke="#000" stroke-width="2"/>
<text transform="translate(691.10,1465.01) scale(0.940,1)" font-size="22.20" text-anchor="end">20</text>
<line x1="691.90" y1="1507.30" x2="697.90" y2="1507.30" stroke="#000" stroke-width="2"/>
<text transform="translate(691.10,1514.96) scale(0.940,1)" font-size="22.20" text-anchor="end">0</text>
<line x1="696.90" y1="1507.30" x2="1191.25" y2="1507.30" stroke="#000" stroke-width="2"/>
<line x1="733.10" y1="1507.30" x2="733.10" y2="1511.80" stroke="#000" stroke-width="2"/>
<line x1="803.40" y1="1507.30" x2="803.40" y2="1511.80" stroke="#000" stroke-width="2"/>
<line x1="874.00" y1="1507.30" x2="874.00" y2="1511.80" stroke="#000" stroke-width="2"/>
<line x1="944.30" y1="1507.30" x2="944.30" y2="1511.80" stroke="#000" stroke-width="2"/>
<line x1="1014.60" y1="1507.30" x2="1014.60" y2="1511.80" stroke="#000" stroke-width="2"/>
<line x1="1085.20" y1="1507.30" x2="1085.20" y2="1511.80" stroke="#000" stroke-width="2"/>
<line x1="1155.50" y1="1507.30" x2="1155.50" y2="1511.80" stroke="#000" stroke-width="2"/>
<text transform="translate(733.10,1533.50) scale(0.910,1)" font-size="22.60" text-anchor="middle">CTL</text>
<text transform="translate(803.40,1533.50) scale(0.910,1)" font-size="22.60" text-anchor="middle" font-style="italic">BtLj</text>
<text transform="translate(874.00,1533.50) scale(0.910,1)" font-size="22.60" text-anchor="middle" font-style="italic">Cg</text>
<text transform="translate(944.30,1533.50) scale(0.910,1)" font-size="22.60" text-anchor="middle">D</text>
<text transform="translate(1014.60,1533.50) scale(0.910,1)" font-size="22.60" text-anchor="middle">D<tspan font-style="italic" dx="2.00">BtLj</tspan></text>
<text transform="translate(1085.20,1533.50) scale(0.910,1)" font-size="22.60" text-anchor="middle">D<tspan font-style="italic" dx="2.00">Cg</tspan></text>
<text transform="translate(1153.80,1533.50) scale(0.869,1)" font-size="22.60" text-anchor="middle">D<tspan font-style="italic" dx="2.00">BtLjCg</tspan></text>
<path d="M970.00,1433.75 L970.00,1316.75 L1153.00,1316.75 L1153.00,1323.75" fill="none" stroke="#000" stroke-width="2" stroke-linejoin="round" stroke-linecap="round"/>
<path d="M861.00,1434.25 L1115.00,1434.25" fill="none" stroke="#000" stroke-width="2" stroke-linejoin="round" stroke-linecap="round"/>
<text transform="translate(1060.75,1306.75) scale(0.920,1)" font-size="18.40" text-anchor="middle">P&lt;0.01</text>
</g>
</svg></body></html>
